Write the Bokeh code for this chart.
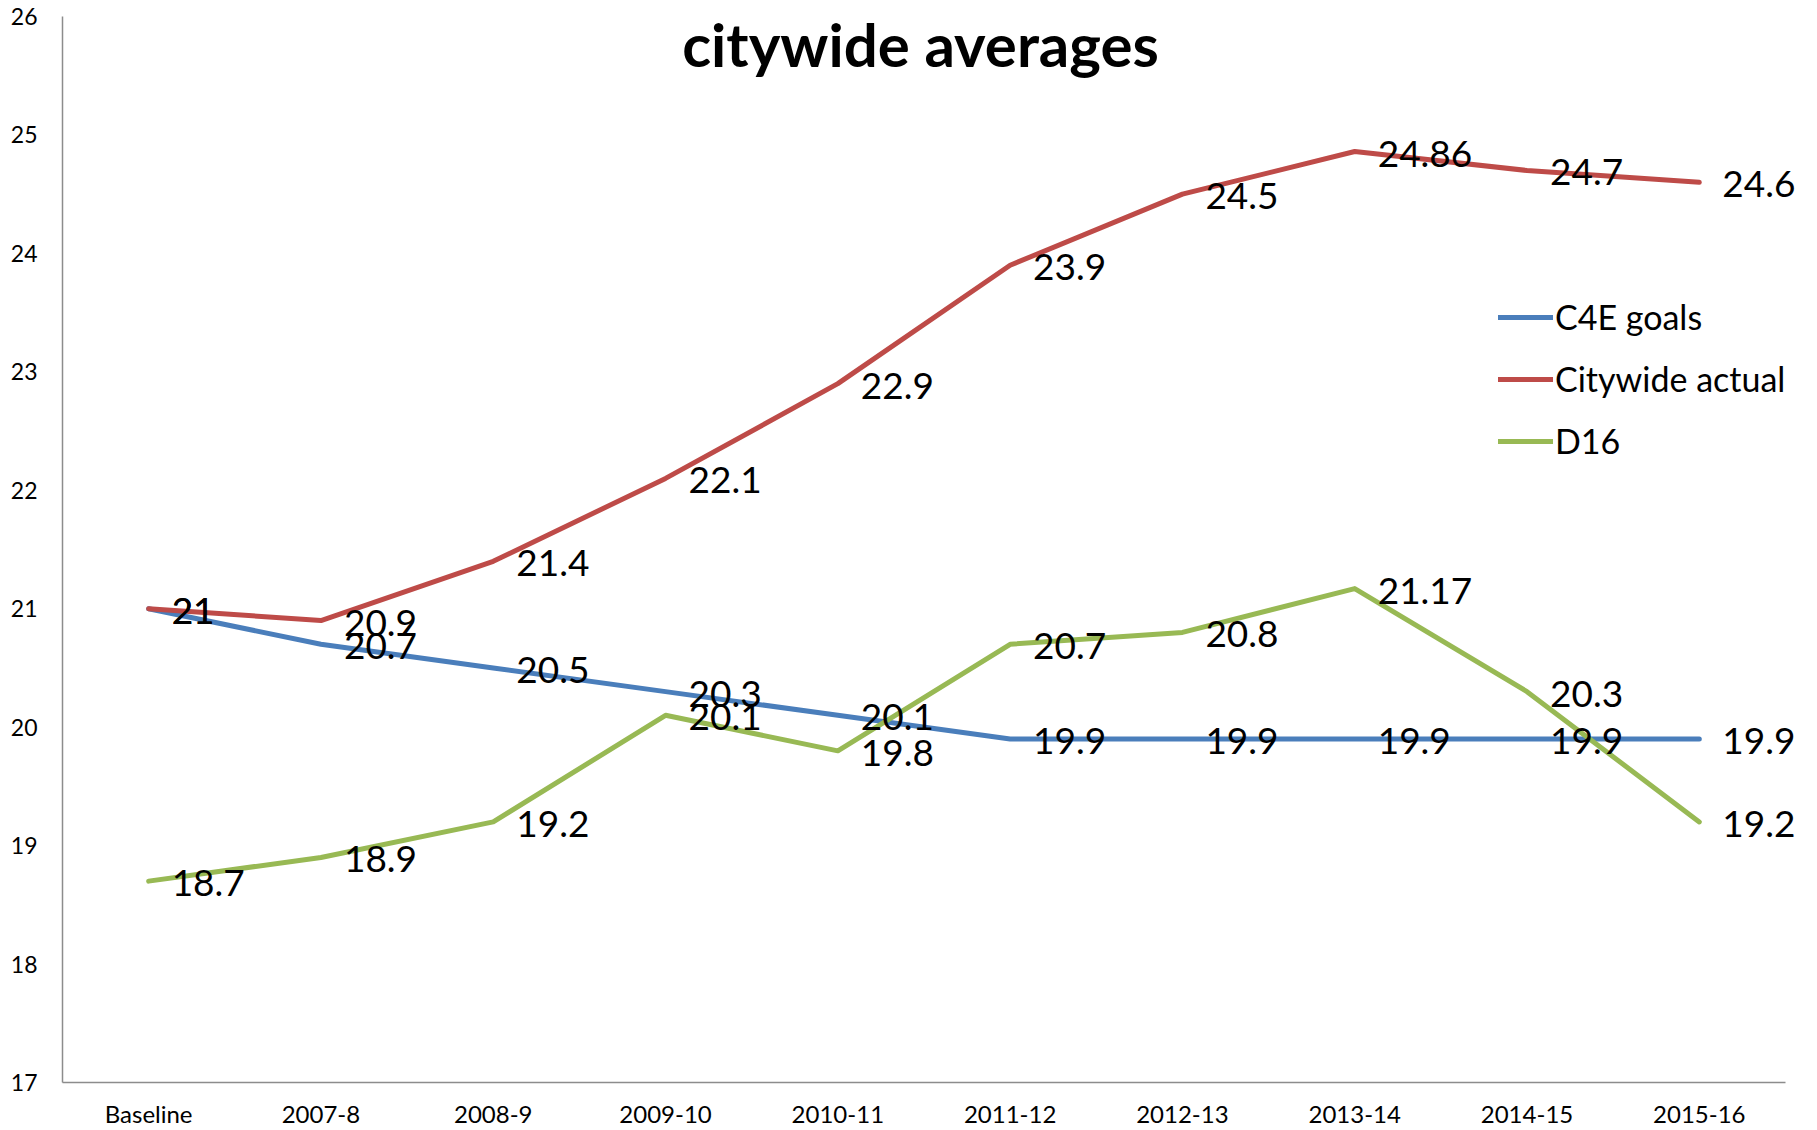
from bokeh.plotting import figure
from bokeh.models import ColumnDataSource, Range1d, FixedTicker, Label, LabelSet
from bokeh.embed import file_html
from bokeh.resources import INLINE
from bokeh.core.properties import value

categories = ["Baseline", "2007-8", "2008-9", "2009-10", "2010-11",
              "2011-12", "2012-13", "2013-14", "2014-15", "2015-16"]
c4e_goals = [21, 20.7, 20.5, 20.3, 20.1, 19.9, 19.9, 19.9, 19.9, 19.9]
citywide_actual = [21, 20.9, 21.4, 22.1, 22.9, 23.9, 24.5, 24.86, 24.7, 24.6]
d16 = [18.7, 18.9, 19.2, 20.1, 19.8, 20.7, 20.8, 21.17, 20.3, 19.2]
y_ticks = [17, 18, 19, 20, 21, 22, 23, 24, 25, 26]

series = [
    ("C4E goals", c4e_goals, "#4A7EBB"),
    ("Citywide actual", citywide_actual, "#BE4B48"),
    ("D16", d16, "#98B954"),
]

FONT = "Lato"
xs = list(range(len(categories)))

# extra room on the right of the last category so labels are not clipped
p = figure(x_range=Range1d(-0.5, 9.686), y_range=Range1d(17, 26),
           width=1817, height=1130, output_backend="svg", toolbar_location=None,
           min_border_left=62, min_border_right=0, min_border_top=16,
           min_border_bottom=48)

p.outline_line_color = None
p.xgrid.grid_line_color = None
p.ygrid.grid_line_color = None
p.background_fill_color = "white"

for ax in (p.xaxis[0], p.yaxis[0]):
    ax.axis_line_color = "#8C8C8C"
    ax.axis_line_width = 1.5
    ax.major_tick_line_color = None
    ax.minor_tick_line_color = None
    ax.major_tick_out = 0
    ax.major_tick_in = 0
    ax.minor_tick_out = 0
    ax.minor_tick_in = 0
    ax.major_label_text_font = FONT
    ax.major_label_text_color = "black"

p.yaxis[0].major_label_text_font_size = "23px"
p.xaxis[0].major_label_text_font_size = "24px"
p.yaxis[0].ticker = FixedTicker(ticks=y_ticks)
p.yaxis[0].major_label_standoff = 25
p.xaxis[0].ticker = FixedTicker(ticks=xs)
p.xaxis[0].major_label_overrides = {i: c for i, c in zip(xs, categories)}
p.xaxis[0].bounds = (-0.5, len(categories) - 0.5)
p.xaxis[0].major_label_standoff = 16

for name, vals, color in series:
    src = ColumnDataSource(dict(x=xs, y=vals))
    p.line("x", "y", source=src, line_color=color, line_width=5,
           line_join="round", line_cap="round", legend_label=name)

for name, vals, color in series:
    src = ColumnDataSource(dict(x=xs, y=vals, t=[f"{v:g}" for v in vals]))
    labels = LabelSet(x="x", y="y", text="t", source=src, text_font=value(FONT),
                      text_font_size="37px", text_align="left", text_baseline="middle",
                      x_offset=23, y_offset=-2, text_color="black")
    p.add_layout(labels)

title = Label(x=4.48, y=25.77, text="citywide averages", text_font=FONT,
              text_font_style="bold", text_font_size="60px", text_align="center",
              text_baseline="middle", text_color="black")
p.add_layout(title)

lg = p.legend[0]
lg.location = (1436, 621)
lg.border_line_color = None
lg.background_fill_alpha = 0
lg.label_text_font = FONT
lg.label_text_font_size = "34px"
lg.label_text_color = "black"
lg.glyph_width = 55
lg.glyph_height = 40
lg.label_height = 40
lg.spacing = 21
lg.padding = 0
lg.margin = 0
lg.label_standoff = 2

open("out.html", "w").write(file_html(p, INLINE))
